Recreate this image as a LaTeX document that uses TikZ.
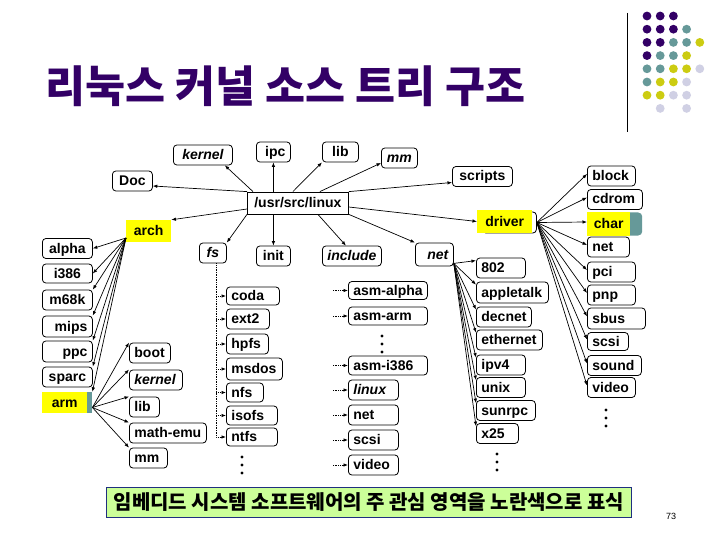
\documentclass[tikz,border=0pt]{standalone}
\usepackage{fontspec}
\setmainfont{Liberation Sans}
\newfontfamily\krfont{Noto Sans CJK KR}
\usetikzlibrary{arrows.meta,calc}
\definecolor{ttl}{HTML}{330066}
\definecolor{dP}{HTML}{330066}
\definecolor{dT}{HTML}{669999}
\definecolor{dY}{HTML}{CCCC11}
\definecolor{dL}{HTML}{D0D0E4}
\definecolor{N}{HTML}{FFFFFF}
\definecolor{hy}{HTML}{FFFF00}
\definecolor{bann}{HTML}{CCFF99}
\definecolor{bannb}{HTML}{1F2F7F}
\newcommand\blab{\bfseries\fontsize{14}{15}\selectfont}
\newcommand\blabi{\bfseries\itshape\fontsize{14}{15}\selectfont}
\tikzset{
 bxs/.style={draw, rounded corners=3.5pt, line width=0.8pt, font=\blab, inner xsep=5pt, inner ysep=0pt, minimum height=20pt, text height=11pt, text depth=2pt, anchor=west},
 arr/.style={-{Latex[length=4.5pt,width=3.5pt]}, line width=0.7pt},
 darr/.style={arr, densely dotted},
 hl/.style={fill=hy, inner sep=0pt, minimum height=22pt, anchor=west, font=\blab, text height=11pt, text depth=2pt},
}
\newcommand\bx[7][]{\node[bxs,#1] (#2) at (#3,#4) {\makebox[\dimexpr#5pt-10pt\relax][#6]{#7}};}
\begin{document}
\begin{tikzpicture}[x=1pt,y=-1pt]
\useasboundingbox (0,0) rectangle (720,540);
\fill[white] (0,0) rectangle (720,540);
% title
\node[anchor=west, inner sep=0pt, text=ttl, font=\krfont\bfseries\fontsize{43.5}{46}\selectfont] (title) at (45,86) {리눅스 커널 소스 트리 구조};
\draw[line width=1pt] (627,13) -- (627,132);
\foreach \row [count=\r from 0] in {{dP,dP,dP,N,N},{dP,dP,dP,dT,N},{dP,dP,dT,dT,dY},{dP,dT,dT,dY,N},{dT,dT,dY,dY,dL},{dT,dY,dY,dL,N},{dY,dY,dL,dL,N},{N,dL,N,dL,N}}
  \foreach \c [count=\i from 0] in \row
    \fill[\c] (647+13.2*\i, 16+13.2*\r) circle (4.4);

% top level
\bx[font=\blabi]{kernel}{173}{155}{59}{c}{kernel}
\bx{ipc}{256}{152}{34}{r}{ipc}
\bx{lib}{322}{152}{36}{c}{lib}
\bx[font=\blabi]{mm}{381}{158}{36}{c}{mm}
\bx{doc}{112}{181}{40}{c}{Doc}
\bx[rounded corners=0pt, minimum height=22pt]{usr}{247}{203}{101}{c}{/usr/src/linux}
\node[hl, minimum width=45pt] (arch) at (126,231) {arch};
\bx[font=\blabi]{fs}{199}{253}{27}{c}{fs}
\bx{init}{256}{256}{34}{c}{init}
\bx[font=\blabi]{include}{322}{256}{59}{c}{include}
\bx[font=\blabi, minimum height=23pt]{net}{415}{254.5}{38}{r}{net}
\bx{scripts}{452}{176.5}{60}{c}{scripts}
\bx[minimum height=21pt]{drvb}{482}{222.5}{54}{c}{}
\node[hl, minimum width=55pt, minimum height=23pt] (driver) at (477,221.5) {driver};

% right column
\bx{block}{587}{176}{48}{l}{block}
\bx{cdrom}{587}{199.5}{55}{l}{cdrom}
\node[hl, fill=dT, rounded corners=4pt, minimum width=55pt, minimum height=23pt] (charb) at (587,224) {};
\node[hl, minimum width=43pt, minimum height=23pt] (char) at (587,224) {char};
\bx{rnet}{587}{247}{42}{l}{net}
\bx{pci}{587}{272}{48}{l}{pci}
\bx{pnp}{587}{295}{48}{l}{pnp}
\bx[minimum height=21pt]{sbus}{587}{318.5}{58}{l}{sbus}
\bx[minimum height=18pt]{rscsi}{587}{341.5}{41}{l}{scsi}
\bx{sound}{587}{365.5}{54}{l}{sound}
\bx{rvideo}{587}{387.5}{48}{l}{video}

% net children
\bx{n802}{476}{268}{49}{l}{802}
\bx[minimum height=21pt]{apple}{476}{292.5}{72}{l}{appletalk}
\bx{decnet}{476}{317}{55}{l}{decnet}
\bx{ether}{476}{340}{66}{l}{ethernet}
\bx{ipv4}{476}{365}{49}{l}{ipv4}
\bx{unix}{476}{387.5}{49}{l}{unix}
\bx{sunrpc}{476}{410.5}{59}{l}{sunrpc}
\bx{x25}{476}{433.5}{42}{l}{x25}

% fs children
\bx[minimum height=18pt]{coda}{226}{296}{53}{l}{coda}
\bx{ext2}{226}{319}{43}{l}{ext2}
\bx{hpfs}{226}{344}{42}{l}{hpfs}
\bx[minimum height=22pt]{msdos}{226}{369}{56}{l}{msdos}
\bx[minimum height=19pt]{nfs}{226}{392.5}{37}{l}{nfs}
\bx[minimum height=19pt]{isofs}{226}{415.5}{51}{l}{isofs}
\bx[minimum height=18pt]{ntfs}{226}{437}{51}{l}{ntfs}

% include children
\bx[minimum height=18pt]{asma}{348}{290.5}{79}{l}{asm-alpha}
\bx[minimum height=18pt]{asmr}{348}{316}{79}{l}{asm-arm}
\bx[minimum height=19pt]{asmi}{348}{365.5}{79}{l}{asm-i386}
\bx[font=\blabi]{linux}{348}{390}{50}{l}{linux}
\bx{inet}{348}{415}{50}{l}{net}
\bx{iscsi}{348}{440}{50}{l}{scsi}
\bx{ivideo}{348}{465}{50}{l}{video}

% arch children
\bx{alpha}{42}{248.5}{50}{c}{alpha}
\bx[minimum height=19pt]{i386}{42}{273.5}{50}{c}{i386}
\bx{m68k}{42}{300}{50}{c}{m68k}
\bx[minimum height=21pt]{mips}{42}{326.5}{50}{r}{mips}
\bx[minimum height=21pt]{ppc}{42}{351.5}{50}{r}{ppc}
\bx{sparc}{42}{377}{50}{c}{sparc}
\node[hl, fill=dT, minimum width=50pt, minimum height=21pt] (armb) at (42,402.5) {};
\node[hl, minimum width=45pt, minimum height=21pt] (arm) at (42,402.5) {arm};

% arm children
\bx{boot}{129}{353}{41}{l}{boot}
\bx[font=\blabi]{akernel}{129}{380}{53}{l}{kernel}
\bx{alib}{129}{407}{30}{l}{lib}
\bx{mathemu}{129}{433}{77}{l}{math-emu}
\bx{amm}{129}{458}{38}{l}{mm}

% connectors from /usr/src/linux
\draw[arr] ([xshift=6pt]usr.north west) -- ([xshift=-8pt]kernel.south east);
\draw[arr] (ipc.south |- usr.north) -- (ipc.south);
\draw[arr] ([xshift=-5pt]usr.north) -- (lib.south west);
\draw[arr] ([xshift=22pt]usr.north) -- ([yshift=-5pt]mm.west);
\draw[arr] (usr.north west) -- ([yshift=-5pt]doc.east);
\draw[arr] (usr.north east) -- ([yshift=-6pt]scripts.west);
\draw[arr] ([yshift=-4pt]usr.east) -- (driver.west);
\draw[arr] ([yshift=-6pt]usr.west) -- (arch.north east);
\draw[arr] (usr.south west) -- (fs.north east);
\draw[arr] (init.north |- usr.south) -- (init.north);
\draw[arr] ([xshift=20pt]usr.south) -- ([xshift=-6pt]include.north);
\draw[arr] (usr.south east) -- (net.north west);

% arch
\foreach \t/\a in {alpha/east, i386/east, m68k/north east, mips/north east, ppc/north east, sparc/north east, armb/north east}
  \draw[arr] ([yshift=-7pt]arch.west) -- (\t.\a);
% arm
\foreach \t in {boot, akernel, alib, mathemu, amm}
  \draw[arr] ([yshift=-5pt]armb.east) -- (\t.north west);
% driver
\foreach \t in {block, cdrom, char, rnet, pci, pnp, sbus, rscsi, sound, rvideo}
  \draw[arr] (drvb.east) -- ([yshift=2pt]\t.west);
% net
\foreach \t in {n802, apple, decnet, ether, ipv4, unix, sunrpc, x25}
  \draw[arr] ([yshift=3pt]net.south east) -- ([yshift=-3pt]\t.north west);
% fs
\coordinate (fsl) at ([xshift=3.5pt]fs.south);
\draw[darr] (fsl) |- (ntfs.west);
\foreach \t in {coda, ext2, hpfs, msdos, nfs, isofs}
  \draw[darr] (fsl |- \t.west) -- (\t.west);
% include
\coordinate (incx) at (333,0);
\foreach \t in {asma, asmr, asmi, linux, inet, iscsi, ivideo}
  \draw[darr] (incx |- \t.west) -- (\t.west);

% vertical ellipses
\foreach \x/\y in {242/457, 382/336, 497/454, 606/410}
  \foreach \k in {0,1,2}
    \fill (\x, \y+8*\k) circle (1.7);

% banner
\node[draw=bannb, fill=bann, line width=0.8pt, minimum width=525pt, minimum height=30pt, anchor=west, inner sep=0pt, font=\krfont\bfseries\fontsize{20}{22}\selectfont] (banner) at (106,502) {임베디드 시스템 소프트웨어의 주 관심 영역을 노란색으로 표식};
\node[font=\fontsize{9}{10}\selectfont, inner sep=0pt] (pg) at (671,516) {73};
\end{tikzpicture}
\end{document}
